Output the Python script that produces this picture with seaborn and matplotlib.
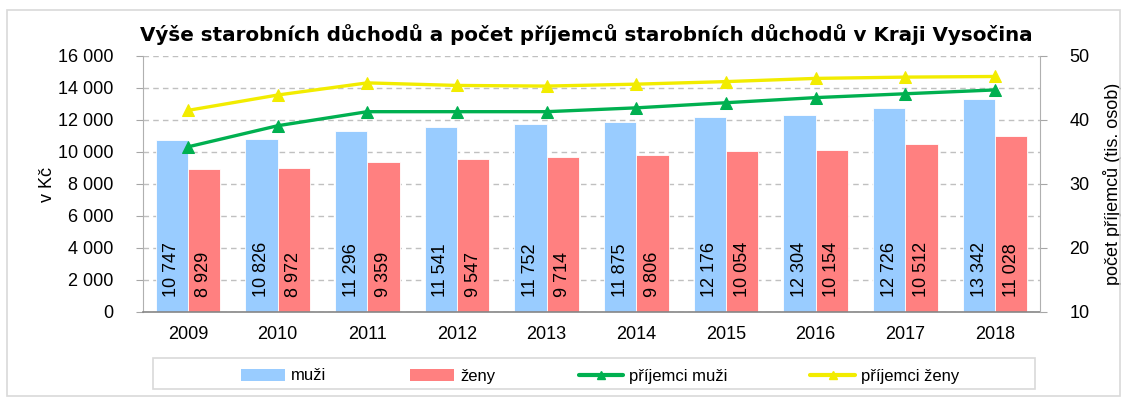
import numpy as np
import pandas as pd
import matplotlib
matplotlib.use("Agg")
import matplotlib.pyplot as plt
import seaborn as sns
from matplotlib.patches import Rectangle, Patch
from matplotlib.lines import Line2D

# ---- data ----
years = ["2009", "2010", "2011", "2012", "2013", "2014", "2015", "2016", "2017", "2018"]
muzi = [10747, 10826, 11296, 11541, 11752, 11875, 12176, 12304, 12726, 13342]
zeny = [8929, 8972, 9359, 9547, 9714, 9806, 10054, 10154, 10512, 11028]
prijemci_muzi = [35.8, 39.1, 41.3, 41.3, 41.3, 41.9, 42.7, 43.5, 44.1, 44.7]
prijemci_zeny = [41.5, 43.9, 45.8, 45.4, 45.3, 45.6, 46.0, 46.5, 46.7, 46.8]
left_ticks = [0, 2000, 4000, 6000, 8000, 10000, 12000, 14000, 16000]
right_ticks = [10, 20, 30, 40, 50]
title = "Výše starobních důchodů a počet příjemců starobních důchodů v Kraji Vysočina"
series_labels = ["muži", "ženy", "příjemci muži", "příjemci ženy"]

BLUE = "#99CCFF"
RED = "#FF8080"
GREEN = "#00B050"
YELLOW = "#F2EC00"

sns.set_style("white")
plt.rcParams["font.family"] = ["Liberation Sans", "DejaVu Sans"]
for k in ["text.color", "axes.labelcolor", "xtick.color", "ytick.color"]:
    plt.rcParams[k] = "black"

df = pd.DataFrame({
    "rok": years * 2,
    "skupina": [series_labels[0]] * len(years) + [series_labels[1]] * len(years),
    "hodnota": muzi + zeny,
})

W, H = 1127, 403
fig = plt.figure(figsize=(W / 100, H / 100), dpi=100)
ax = fig.add_axes([143 / W, 1 - 312 / H, (1040 - 143) / W, (312 - 56) / H])

sns.barplot(data=df, x="rok", y="hodnota", hue="skupina", palette=[BLUE, RED],
            width=0.72, ax=ax, legend=False, saturation=1,
            edgecolor="white", linewidth=0.6)

def fmt(v):
    return f"{v:,}".replace(",", " ")

for cont, vals in zip(ax.containers, [muzi, zeny]):
    for bar, v in zip(cont, vals):
        ax.annotate(fmt(v), xy=(bar.get_x() + bar.get_width() / 2, 0),
                    xytext=(0, 11), textcoords="offset points",
                    rotation=90, ha="center", va="bottom", fontsize=13,
                    color="black")

ax.set_xlim(-0.5, len(years) - 0.5)
ax.set_ylim(0, 16000)
ax.set_yticks(left_ticks)
ax.set_yticklabels([fmt(t) for t in left_ticks], fontsize=13)
ax.set_xticks(np.arange(len(years)))
ax.set_xticklabels(years, fontsize=13)
ax.set_xticks(np.arange(-0.5, len(years), 1), minor=True)
ax.tick_params(axis="x", which="major", length=0, pad=10)
ax.tick_params(axis="x", which="minor", direction="inout", length=12,
               color="#868686", width=1)
ax.tick_params(axis="y", which="major", direction="out", length=5,
               color="#A6A6A6", pad=16, left=True)
ax.yaxis.grid(True, linestyle=(0, (4, 3)), color="#C0C0C0", linewidth=1)
ax.xaxis.grid(False)
ax.set_axisbelow(True)
ax.set_xlabel("")
ax.set_ylabel("v Kč", fontsize=13, labelpad=2)
for s in ["top", "right"]:
    ax.spines[s].set_visible(False)
ax.spines["left"].set_color("#B0B0B0")
ax.spines["bottom"].set_color("#868686")
ax.spines["bottom"].set_linewidth(1.2)

ax2 = ax.twinx()
pos = np.arange(len(years))
sns.lineplot(x=pos, y=prijemci_muzi, ax=ax2, color=GREEN, marker="^",
             markersize=8, markeredgecolor=GREEN, linewidth=2.4)
sns.lineplot(x=pos, y=prijemci_zeny, ax=ax2, color=YELLOW, marker="^",
             markersize=8, markeredgecolor=YELLOW, linewidth=2.4)
ax2.set_ylim(10, 50)
ax2.set_yticks(right_ticks)
ax2.set_yticklabels([str(t) for t in right_ticks], fontsize=13)
ax2.tick_params(axis="y", direction="out", length=5, color="#A6A6A6",
                pad=16, right=True)
ax2.set_ylabel("počet příjemců (tis. osob)", fontsize=13, labelpad=10)
ax2.set_xlabel("")
for s in ["top", "left", "bottom"]:
    ax2.spines[s].set_visible(False)
ax2.spines["right"].set_color("#B0B0B0")
ax2.grid(False)
ax2.set_xlim(-0.5, len(years) - 0.5)

fig.text(586 / W, 1 - 35 / H, title, ha="center", va="center",
         fontsize=14.3, fontweight="bold", family=["DejaVu Sans"], color="black")

handles = [
    Patch(facecolor=BLUE, edgecolor="none"),
    Patch(facecolor=RED, edgecolor="none"),
    Line2D([], [], color=GREEN, lw=3, marker="^", ms=6),
    Line2D([], [], color=YELLOW, lw=3, marker="^", ms=6),
]
fig.legend(handles, series_labels, loc="center",
           bbox_to_anchor=(600 / W, 1 - 376 / H), ncol=4, frameon=False,
           fontsize=12, columnspacing=5.0, handlelength=2.65, handletextpad=0.36)

fig.patches.append(Rectangle((153 / W, 1 - 389 / H), (1035 - 153) / W, 31 / H,
                             transform=fig.transFigure, fill=False,
                             edgecolor="#D9D9D9", linewidth=1.2))
fig.patches.append(Rectangle((7 / W, 1 - 396 / H), (1120 - 7) / W, (396 - 10) / H,
                             transform=fig.transFigure, fill=False,
                             edgecolor="#D9D9D9", linewidth=1.2))

fig.savefig("out.png", dpi=100, facecolor="white")
